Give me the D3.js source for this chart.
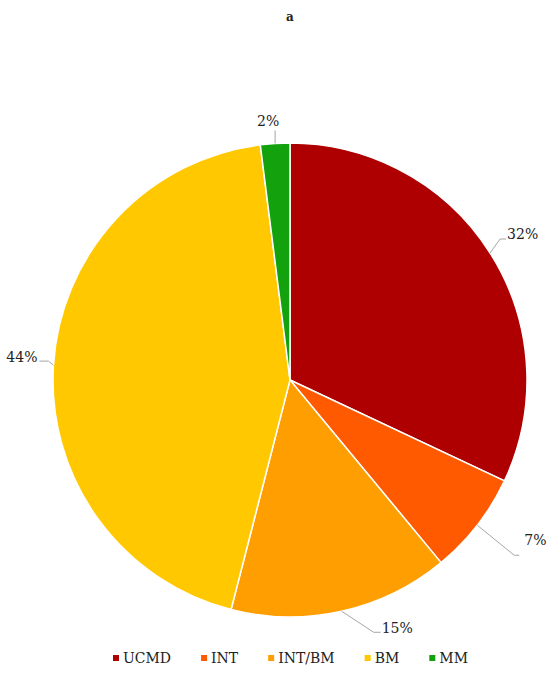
<!DOCTYPE html>
<html>
<head>
<meta charset="utf-8">
<script src="https://cdn.jsdelivr.net/npm/d3@7"></script>
<style>
  body { margin: 0; background: #fff; }
  text { font-family: "DejaVu Serif", "Liberation Serif", serif; fill: #222; }
</style>
</head>
<body>
<svg width="550" height="688"></svg>
<script>
const categories = ['UCMD', 'INT', 'INT/BM', 'BM', 'MM'];
const values = [32, 7, 15, 44, 2];
const colors = ['#ae0000', '#ff5a00', '#ff9e00', '#ffc800', '#13a10e'];

// leader layout per slice: elbow offset from the arc edge, horizontal tail, label offset from tail end
const leaders = [
  { ex: 10, ey: -14, tail: 6, lx: 1, ly: -5 },
  { ex: 37, ey: 30, tail: 5, lx: 5, ly: -15 },
  { ex: 32, ey: 21, tail: 7, lx: 1, ly: -4 },
  { ex: -5, ey: -4, tail: -9, lx: -2, ly: -4 },
  { ex: 0, ey: -13, tail: 0, lx: -7, ly: -9 }
];

const svg = d3.select('svg');
const cx = 290, cy = 380, r = 237;

svg.append('text')
  .attr('x', 290).attr('y', 21)
  .attr('text-anchor', 'middle')
  .attr('font-size', 12).attr('font-weight', 'bold')
  .text('a');

const pie = d3.pie().sort(null).value(d => d)(values);
const arc = d3.arc().innerRadius(0).outerRadius(r);

const g = svg.append('g').attr('transform', `translate(${cx},${cy})`);

g.selectAll('path')
  .data(pie)
  .enter()
  .append('path')
  .attr('d', arc)
  .attr('fill', (d, i) => colors[i])
  .attr('stroke', '#fff')
  .attr('stroke-width', 1.5);

// leader lines + labels
pie.forEach((d, i) => {
  const L = leaders[i];
  const a = (d.startAngle + d.endAngle) / 2;
  const p0 = [Math.sin(a) * r, -Math.cos(a) * r];
  const p1 = [p0[0] + L.ex, p0[1] + L.ey];
  const p2 = [p1[0] + L.tail, p1[1]];
  g.append('polyline')
    .attr('points', [p0, p1, p2].map(p => p.join(',')).join(' '))
    .attr('fill', 'none')
    .attr('stroke', '#a6a6a6')
    .attr('stroke-width', 1);
  g.append('text')
    .attr('x', p2[0] + L.lx)
    .attr('y', p2[1] + L.ly)
    .attr('dy', '0.35em')
    .attr('text-anchor', L.tail === 0 ? 'middle' : (L.tail > 0 ? 'start' : 'end'))
    .attr('font-size', 14)
    .text(values[i] + '%');
});

// legend
const legend = svg.append('g').attr('transform', 'translate(113,658)');
let x = 0;
categories.forEach((c, i) => {
  const item = legend.append('g').attr('transform', `translate(${x},0)`);
  item.append('rect')
    .attr('x', 0).attr('y', -3)
    .attr('width', 6).attr('height', 6)
    .attr('fill', colors[i]);
  const tx = item.append('text')
    .attr('x', 10).attr('y', 0)
    .attr('dy', '0.35em')
    .attr('font-size', 14)
    .text(c);
  x += 10 + tx.node().getComputedTextLength() + 30;
});
</script>
</body>
</html>
